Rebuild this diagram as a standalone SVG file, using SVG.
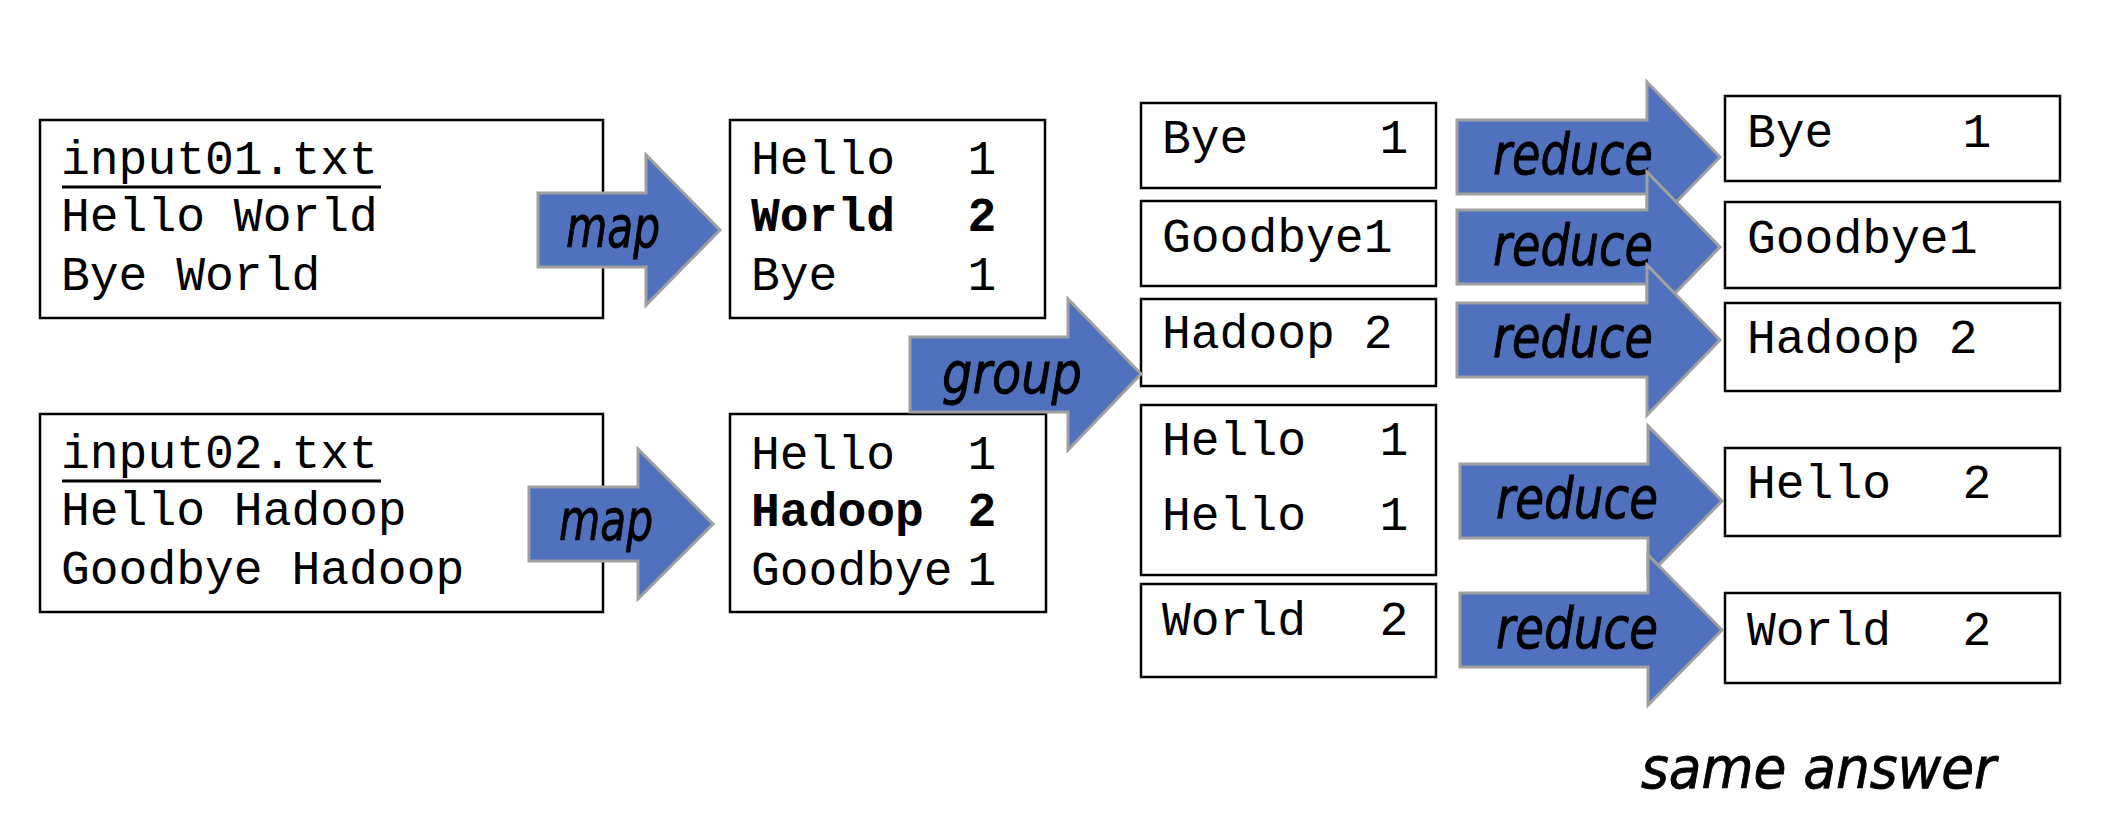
<svg xmlns="http://www.w3.org/2000/svg" width="2102" height="824" viewBox="0 0 2102 824">
<style>
.box{fill:#fff;stroke:#000;stroke-width:2.5}
.mono{font-family:"Liberation Mono","Courier New",monospace;font-size:48px;fill:#000}
.b{font-weight:bold}
.arr{fill:#4F71BE;stroke:#A0A0A0;stroke-width:3;stroke-linejoin:miter}
.lbl{font-family:"DejaVu Sans Condensed","DejaVu Sans",sans-serif;font-style:italic;font-size:57px;fill:#000;stroke:#000;stroke-width:0.8}
.num{text-anchor:middle}
</style>
<rect width="2102" height="824" fill="#fff"/>
<g id="input01">
<rect class="box" x="40" y="120" width="563" height="198"/>
<text class="mono" x="61" y="174">input01.txt</text>
<line x1="62" y1="187" x2="381" y2="187" stroke="#000" stroke-width="3"/>
<text class="mono" x="61" y="231">Hello World</text>
<text class="mono" x="61" y="290">Bye World</text>
</g>
<g id="input02">
<rect class="box" x="40" y="414" width="563" height="198"/>
<text class="mono" x="61" y="468">input02.txt</text>
<line x1="62" y1="481" x2="381" y2="481" stroke="#000" stroke-width="3"/>
<text class="mono" x="61" y="525">Hello Hadoop</text>
<text class="mono" x="61" y="584">Goodbye Hadoop</text>
</g>
<g id="map01">
<rect class="box" x="730" y="120" width="315" height="198"/>
<text class="mono" x="751" y="174">Hello<tspan x="982" class="num">1</tspan></text>
<text class="mono b" x="751" y="231">World<tspan x="982" class="num">2</tspan></text>
<text class="mono" x="751" y="290">Bye<tspan x="982" class="num">1</tspan></text>
</g>
<g id="map02">
<rect class="box" x="730" y="414" width="316" height="198"/>
<text class="mono" x="751" y="469">Hello<tspan x="982" class="num">1</tspan></text>
<text class="mono b" x="751" y="526">Hadoop<tspan x="982" class="num">2</tspan></text>
<text class="mono" x="751" y="585">Goodbye<tspan x="982" class="num">1</tspan></text>
</g>
<g id="grp-bye">
<rect class="box" x="1141" y="103" width="295" height="85"/>
<text class="mono" x="1162" y="153">Bye<tspan x="1394" class="num">1</tspan></text>
</g>
<g id="grp-goodbye">
<rect class="box" x="1141" y="201" width="295" height="85"/>
<text class="mono" x="1162" y="252">Goodbye1</text>
</g>
<g id="grp-hadoop">
<rect class="box" x="1141" y="299" width="295" height="87"/>
<text class="mono" x="1162" y="348">Hadoop 2</text>
</g>
<g id="grp-hello">
<rect class="box" x="1141" y="405" width="295" height="170"/>
<text class="mono" x="1162" y="455">Hello<tspan x="1394" class="num">1</tspan></text>
<text class="mono" x="1162" y="530">Hello<tspan x="1394" class="num">1</tspan></text>
</g>
<g id="grp-world">
<rect class="box" x="1141" y="584" width="295" height="93"/>
<text class="mono" x="1162" y="635">World<tspan x="1394" class="num">2</tspan></text>
</g>
<g id="out-bye">
<rect class="box" x="1725" y="96" width="335" height="85"/>
<text class="mono" x="1747" y="147">Bye<tspan x="1977" class="num">1</tspan></text>
</g>
<g id="out-goodbye">
<rect class="box" x="1725" y="202" width="335" height="86"/>
<text class="mono" x="1747" y="253">Goodbye1</text>
</g>
<g id="out-hadoop">
<rect class="box" x="1725" y="303" width="335" height="88"/>
<text class="mono" x="1747" y="353">Hadoop 2</text>
</g>
<g id="out-hello">
<rect class="box" x="1725" y="448" width="335" height="88"/>
<text class="mono" x="1747" y="498">Hello<tspan x="1977" class="num">2</tspan></text>
</g>
<g id="out-world">
<rect class="box" x="1725" y="593" width="335" height="90"/>
<text class="mono" x="1747" y="645">World<tspan x="1977" class="num">2</tspan></text>
</g>
<g id="connectors">
<path class="arr" d="M538,193 H646 V155 L720,230 L646,305 V267 H538 Z"/>
<text class="lbl" x="566" y="247" textLength="94" lengthAdjust="spacingAndGlyphs">map</text>
<path class="arr" d="M529,487 H638 V449 L713,524 L638,599 V561 H529 Z"/>
<text class="lbl" x="559" y="540" textLength="94" lengthAdjust="spacingAndGlyphs">map</text>
<path class="arr" d="M910,337 H1068 V299 L1141,374 L1068,450 V412 H910 Z"/>
<text class="lbl" x="942" y="393" textLength="140" lengthAdjust="spacingAndGlyphs">group</text>
<path class="arr" d="M1457,120 H1647 V82 L1720,157 L1647,232 V194 H1457 Z"/>
<text class="lbl" x="1493" y="174" textLength="160" lengthAdjust="spacingAndGlyphs">reduce</text>
<path class="arr" d="M1457,210 H1647 V172 L1720,247 L1647,322 V284 H1457 Z"/>
<text class="lbl" x="1493" y="265" textLength="160" lengthAdjust="spacingAndGlyphs">reduce</text>
<path class="arr" d="M1457,303 H1647 V265 L1720,340 L1647,415 V377 H1457 Z"/>
<text class="lbl" x="1493" y="357" textLength="160" lengthAdjust="spacingAndGlyphs">reduce</text>
<path class="arr" d="M1460,464 H1648 V426 L1722,501 L1648,576 V538 H1460 Z"/>
<text class="lbl" x="1496" y="518" textLength="162" lengthAdjust="spacingAndGlyphs">reduce</text>
<path class="arr" d="M1460,593 H1648 V555 L1722,630 L1648,705 V667 H1460 Z"/>
<text class="lbl" x="1496" y="648" textLength="162" lengthAdjust="spacingAndGlyphs">reduce</text>
</g>
<text class="lbl" x="1641" y="788" font-size="58" textLength="355" lengthAdjust="spacingAndGlyphs">same answer</text>
</svg>
